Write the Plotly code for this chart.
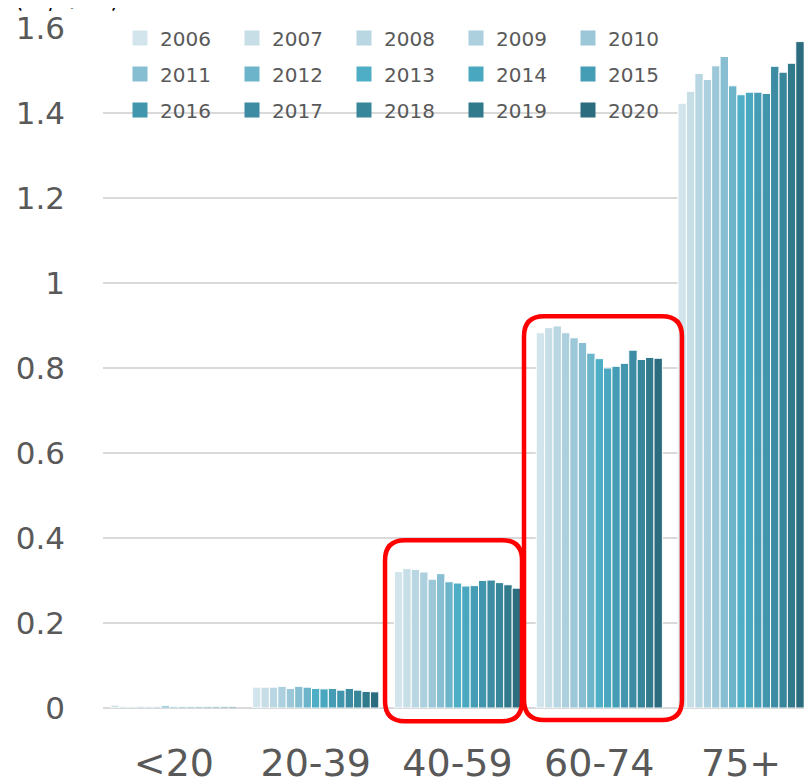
import plotly.graph_objects as go

# ---- data ----
age_groups = ["<20", "20-39", "40-59", "60-74", "75+"]
years = [str(y) for y in range(2006, 2021)]

vals_u20 = [0.007, 0.004, 0.003, 0.004, 0.003, 0.003, 0.005, 0.003, 0.003, 0.003, 0.003, 0.003, 0.003, 0.003, 0.003]
vals_20_39 = [0.049, 0.049, 0.049, 0.051, 0.046, 0.051, 0.049, 0.046, 0.045, 0.046, 0.042, 0.046, 0.042, 0.039, 0.038]
vals_40_59 = [0.321, 0.328, 0.326, 0.320, 0.303, 0.316, 0.297, 0.294, 0.287, 0.288, 0.300, 0.301, 0.295, 0.290, 0.282]
vals_60_74 = [0.883, 0.895, 0.899, 0.883, 0.871, 0.860, 0.835, 0.822, 0.800, 0.804, 0.811, 0.842, 0.820, 0.825, 0.823]
vals_75p = [1.423, 1.451, 1.493, 1.479, 1.511, 1.533, 1.464, 1.443, 1.449, 1.449, 1.446, 1.510, 1.496, 1.517, 1.568]

year_colors = ["#D3E5EC", "#C7DEE6", "#B9D7E2", "#ACD0DE", "#9BC7D8", "#87BED1", "#6CB4CA",
               "#4DAEC6", "#49A7C0", "#459DB5", "#4195AD", "#3D8CA3", "#388699", "#317A8B", "#2B6C7E"]

y_ticks = [0, 0.2, 0.4, 0.6, 0.8, 1.0, 1.2, 1.4, 1.6]
y_tick_text = ["0", "0.2", "0.4", "0.6", "0.8", "1", "1.2", "1.4", "1.6"]
unit_label = "(人/千人)"

# highlight boxes, in (category-index, value) units
highlight_boxes = [
    {"x0": 1.489, "x1": 2.455, "y0": -0.031, "y1": 0.395},
    {"x0": 2.469, "x1": 3.583, "y0": -0.028, "y1": 0.922},
]

# ---- figure ----
# the page body has an 8px margin, so the figure is laid out 8px up/left
OFF = 8
W, H = 812, 777
ML, MR, MT, MB = 103 - OFF, 0 + OFF, 28 - OFF, 69 + OFF
PW, PH = W - ML - MR, H - MT - MB
Y_RANGE = [0, 1.6]

groups = [vals_u20, vals_20_39, vals_40_59, vals_60_74, vals_75p]

fig = go.Figure()
for i, yr in enumerate(years):
    fig.add_trace(go.Bar(
        x=age_groups, y=[g[i] for g in groups], name=yr,
        marker=dict(color=year_colors[i], line=dict(color="white", width=1)),
        showlegend=False,
    ))

# legend proxies (3 rows of 5)
legend_ids = ["legend", "legend2", "legend3"]
for i, yr in enumerate(years):
    fig.add_trace(go.Scatter(
        x=[None], y=[None], mode="markers", name=yr,
        marker=dict(symbol="square", size=15, color=year_colors[i]),
        legend=legend_ids[i // 5], showlegend=True,
    ))

def to_px(xd):
    return (xd + 0.5) / len(age_groups)

def to_py(yv):
    return (yv - Y_RANGE[0]) / (Y_RANGE[1] - Y_RANGE[0])

rx, ry = 20 / PW, 20 / PH
for b in highlight_boxes:
    x0, x1, y0, y1 = to_px(b["x0"]), to_px(b["x1"]), to_py(b["y0"]), to_py(b["y1"])
    path = (f"M {x0+rx},{y0} L {x1-rx},{y0} Q {x1},{y0} {x1},{y0+ry} "
            f"L {x1},{y1-ry} Q {x1},{y1} {x1-rx},{y1} "
            f"L {x0+rx},{y1} Q {x0},{y1} {x0},{y1-ry} "
            f"L {x0},{y0+ry} Q {x0},{y0} {x0+rx},{y0} Z")
    fig.add_shape(type="path", path=path, xref="paper", yref="paper",
                  line=dict(color="#FF0000", width=4.5), fillcolor="rgba(0,0,0,0)", layer="above")

fig.add_annotation(text=unit_label, xref="paper", yref="paper",
                   x=(12 - OFF - ML) / PW, y=1 + (MT - 7) / PH, xanchor="left", yanchor="bottom",
                   showarrow=False, font=dict(family="Noto Sans CJK JP", size=26, color="black"))

font_main = "DejaVu Sans"
legend_common = dict(orientation="h", bgcolor="rgba(0,0,0,0)", entrywidth=67, entrywidthmode="pixels",
                     font=dict(family=font_main, size=20, color="#595959"),
                     xanchor="left", yanchor="middle", itemclick=False, itemdoubleclick=False,
                     tracegroupgap=0)
row_y_screen = [38, 74, 110]
lx = (120 - OFF - ML) / PW

def legend_y(sy):
    return 1 - (sy - OFF - MT) / PH

fig.update_layout(
    width=W, height=H,
    margin=dict(l=ML, r=MR, t=MT, b=MB, pad=0, autoexpand=False),
    paper_bgcolor="white", plot_bgcolor="white",
    barmode="group", bargap=0.11, bargroupgap=0,
    font=dict(family=font_main, color="#595959"),
    legend=dict(**legend_common, x=lx, y=legend_y(row_y_screen[0])),
    legend2=dict(**legend_common, x=lx, y=legend_y(row_y_screen[1])),
    legend3=dict(**legend_common, x=lx, y=legend_y(row_y_screen[2])),
)
fig.update_xaxes(type="category", showgrid=False, showline=False, ticks="", automargin=False,
                 tickfont=dict(family=font_main, size=38, color="#595959"),
                 ticklabelstandoff=29)
fig.update_yaxes(range=Y_RANGE, tickvals=y_ticks, ticktext=y_tick_text, automargin=False,
                 showgrid=True, gridcolor="#D9D9D9", gridwidth=1.5,
                 zeroline=True, zerolinecolor="#D9D9D9", zerolinewidth=1.5,
                 showline=False, ticks="",
                 tickfont=dict(family=font_main, size=31, color="#595959"),
                 ticklabelstandoff=37)

fig.write_html("out.html")
